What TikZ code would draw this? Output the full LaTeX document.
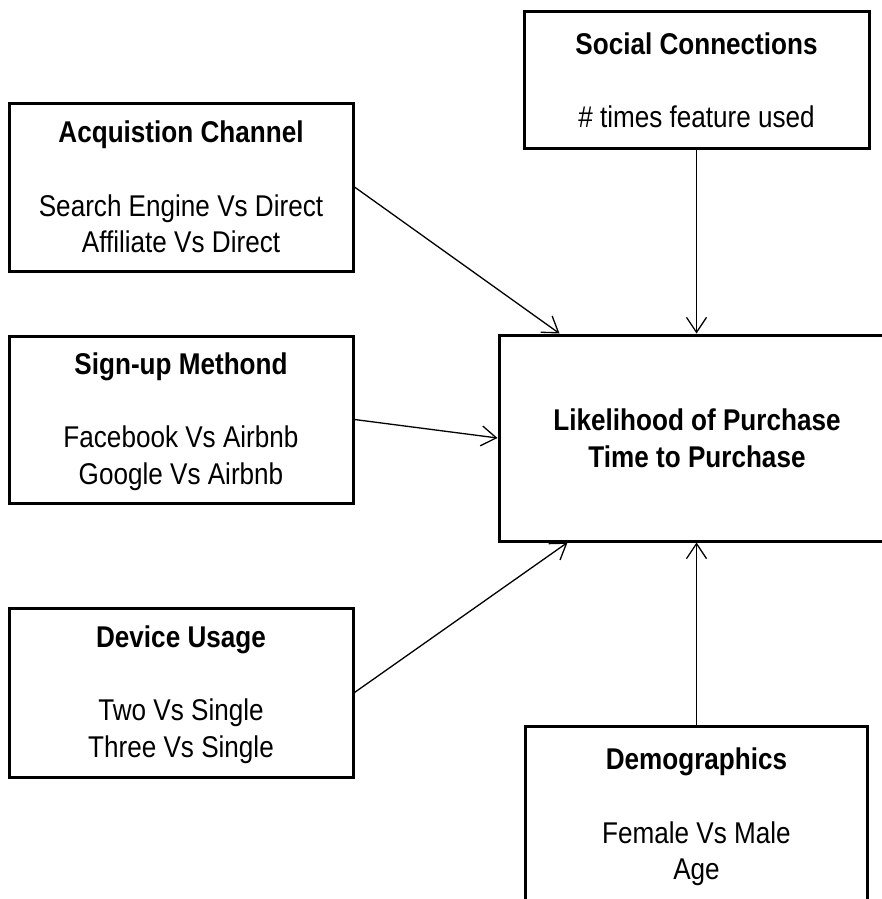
\documentclass[tikz,border=0pt]{standalone}
\usepackage{fontspec}
\setmainfont{Liberation Sans}[FakeStretch=0.87]
\usetikzlibrary{arrows.meta}
\newcommand\mystrut{\rule[-4.1pt]{0pt}{29.7pt}}
\tikzset{
  box/.style={draw=black, line width=3pt, align=center, inner sep=0pt,
    font=\fontsize{30}{36.7}\selectfont, text=black},
  conn/.style={-{Straight Barb[length=15pt,width=20pt]}, line width=1.3pt, draw=black}
}
\begin{document}
\begin{tikzpicture}[x=1pt,y=-1pt]
\useasboundingbox (0,0) rectangle (882,899);
\fill[white] (0,0) rectangle (882,899);
\clip (0,0) rectangle (882,899);

\node[box, minimum width=345pt, minimum height=136pt] (soc) at (696.5,80)
  {{\bfseries Social Connections\mystrut}\\ \mystrut\\ \# times feature used\mystrut};
\node[box, minimum width=344pt, minimum height=168pt] (acq) at (181,187)
  {{\bfseries Acquistion Channel\mystrut}\\ \mystrut\\ Search Engine Vs Direct\mystrut\\ Affiliate Vs Direct\mystrut};
\node[box, minimum width=344pt, minimum height=167pt] (sup) at (181,419.5)
  {{\bfseries Sign-up Methond\mystrut}\\ \mystrut\\ Facebook Vs Airbnb\mystrut\\ Google Vs Airbnb\mystrut};
\node[box, minimum width=344pt, minimum height=169pt] (dev) at (181,692.5)
  {{\bfseries Device Usage\mystrut}\\ \mystrut\\ Two Vs Single\mystrut\\ Three Vs Single\mystrut};
\node[box, minimum width=396pt, minimum height=206pt] (lik) at (697,438)
  {{\bfseries Likelihood of Purchase\mystrut}\\ {\bfseries Time to Purchase\mystrut}};
\node[box, minimum width=342pt, minimum height=178pt] (dem) at (696.5,815)
  {{\bfseries Demographics\mystrut}\\ \mystrut\\ Female Vs Male\mystrut\\ Age\mystrut};

\draw[conn] (soc.south) -- (soc.south |- lik.north);
\draw[conn] (acq.east) -- ([xshift=62pt]lik.north west);
\draw[conn] (sup.east) -- (lik.west);
\draw[conn] (dev.east) -- ([xshift=70pt]lik.south west);
\draw[conn] (dem.north) -- (dem.north |- lik.south);
\end{tikzpicture}
\end{document}
